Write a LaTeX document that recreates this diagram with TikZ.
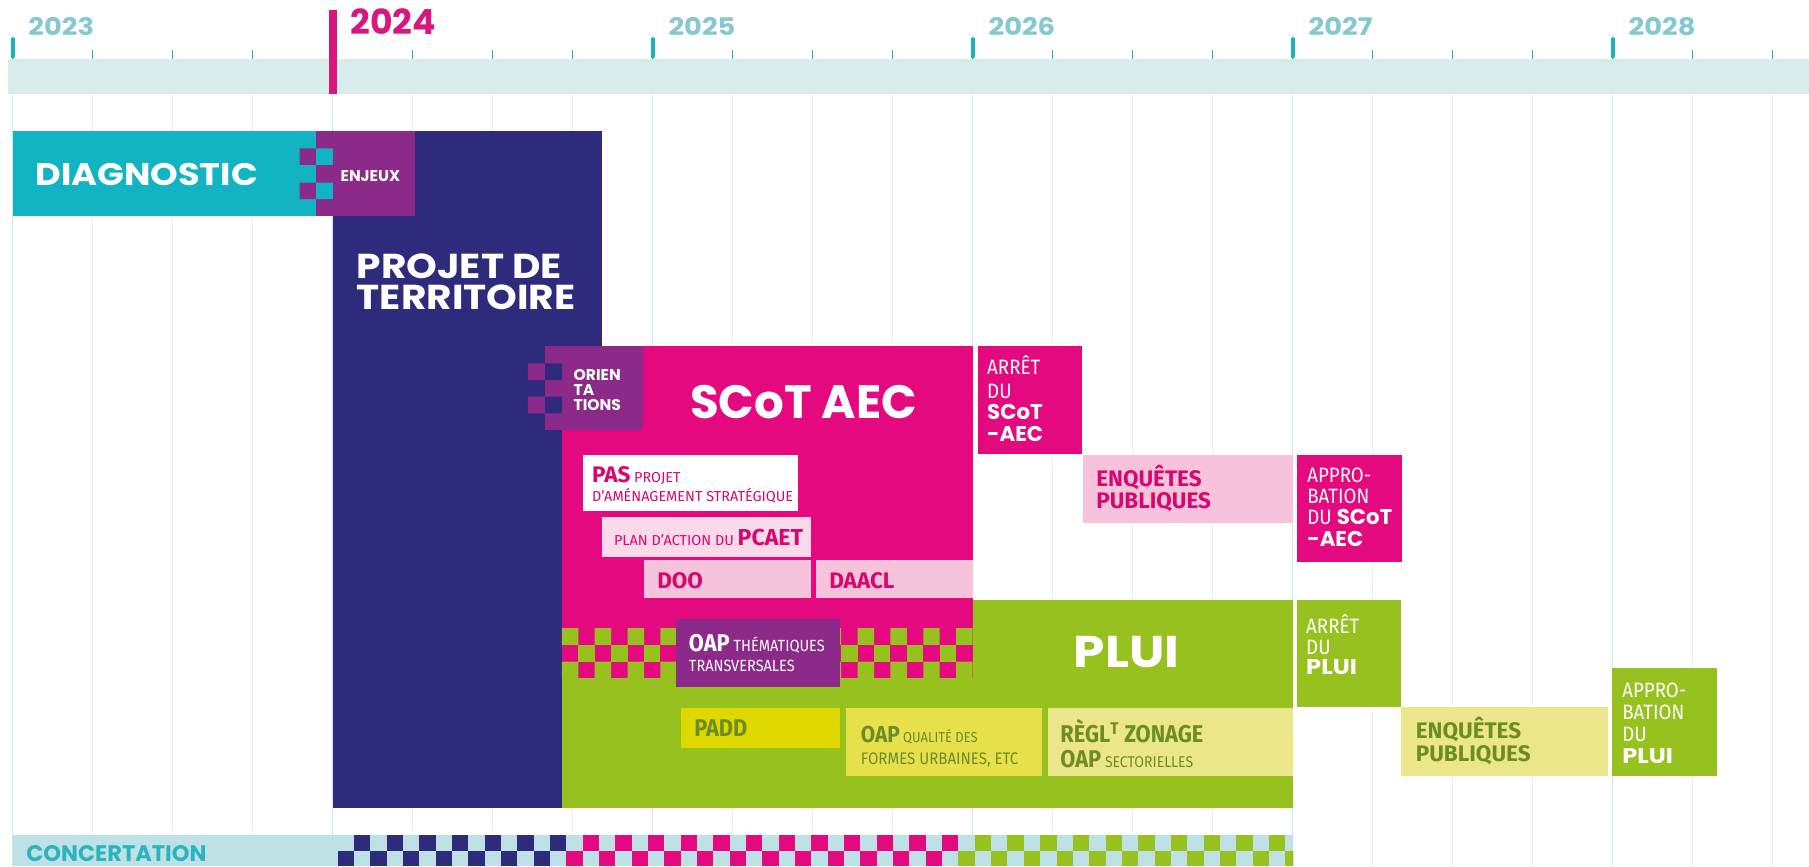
\documentclass[tikz,border=0pt]{standalone}
\usepackage{fontspec}
\setmainfont{Fira Sans}
\newfontfamily\dispfont{Poppins}
\newfontfamily\dispwide[FakeStretch=1.13]{Poppins}
\newfontfamily\condfont[FakeStretch=0.9]{Fira Sans}
\newcommand\dispword[2]{{\dispfont\bfseries\fontsize{#1}{#1}\selectfont #2}}
\newcommand\boldword[2]{{\bfseries\fontsize{#1}{#1}\selectfont #2}}
\definecolor{diagteal}{RGB}{18,180,195}
\definecolor{enjpurple}{RGB}{140,42,138}
\definecolor{projnavy}{RGB}{46,42,124}
\definecolor{scotmag}{RGB}{228,9,126}
\definecolor{scottxt}{RGB}{214,8,112}
\definecolor{pluigreen}{RGB}{150,193,31}
\definecolor{pinkmid}{RGB}{246,195,218}
\definecolor{pinklight}{RGB}{250,217,232}
\definecolor{yelpadd}{RGB}{222,216,0}
\definecolor{yeloap}{RGB}{230,224,75}
\definecolor{yelpale}{RGB}{236,230,139}
\definecolor{olivetxt}{RGB}{110,140,38}
\definecolor{bandgrey}{RGB}{217,236,236}
\definecolor{concband}{RGB}{190,225,229}
\definecolor{concteal}{RGB}{43,179,192}
\definecolor{tickteal}{RGB}{27,176,187}
\definecolor{yearteal}{RGB}{135,200,208}
\definecolor{yearmag}{RGB}{216,23,126}
\definecolor{gridq}{RGB}{232,243,245}
\definecolor{gridy}{RGB}{205,230,235}

\begin{document}
\begin{tikzpicture}[x=1pt,y=-1pt,
 lbl/.style={anchor=base west,inner sep=0pt},
 disp/.style={lbl,text=white,font=\dispfont\bfseries\fontsize{#1}{#1}\selectfont},
 dispw/.style={lbl,text=white,font=\dispwide\bfseries\fontsize{#1}{#1}\selectfont},
 cnd/.style={lbl,font=\condfont\fontsize{#1}{#1}\selectfont},
 cndb/.style={lbl,font=\condfont\bfseries\fontsize{#1}{#1}\selectfont},
 txt/.style={lbl,font=\fontsize{#1}{#1}\selectfont},
 txtb/.style={lbl,font=\bfseries\fontsize{#1}{#1}\selectfont},
 yearlbl/.style={lbl,text=yearteal,font=\dispwide\bfseries\fontsize{21}{21}\selectfont}]
\useasboundingbox (0,0) rectangle (1568,751);
\fill[white] (0,0) rectangle (1568,751);
% grid and timeline
\foreach \k in {0,...,22} {\draw[gridq,line width=1] ({11+69.35*\k},82) -- ({11+69.35*\k},751);}
\foreach \k in {0,4,...,20} {\draw[gridy,line width=1] ({11+69.35*\k},82) -- ({11+69.35*\k},751);}
\fill[bandgrey] (7,51.5) rectangle (1568,81.5);
\foreach \k in {0,...,22} {\draw[tickteal,line width=1] ({11+69.35*\k},43) -- ++(0,8.5);}
\foreach \k/\yr in {0/2023,2/2025,3/2026,4/2027,5/2028} {
  \draw[tickteal,line width=3.6,line cap=round] ({11+277.4*\k},34) -- ++(0,15);
  \node[yearlbl] (y\yr) at ({24.5+277.4*\k},31) {\yr};}
\fill[yearmag] (285,8.7) rectangle (292,81.5);
\node[lbl,text=yearmag,font=\dispfont\bfseries\fontsize{30}{30}\selectfont] (y2024) at (303.5,30.3) {2024};
% phases
\fill[projnavy] (288.6,113.5) rectangle (522,700);
\fill[pluigreen] (487,520) rectangle (1121,700);
\fill[scotmag] (487,300) rectangle (843,588);
\fill[diagteal] (11.5,113.5) rectangle (274,187.5);
\fill[enjpurple] (274,113.5) rectangle (359.7,187.5);
\fill[enjpurple] (259.6,128.6) rectangle (274,143) (259.6,158.4) rectangle (274,172.5);
\fill[diagteal] (274,128.6) rectangle (288.6,143) (274,158.4) rectangle (288.6,172.5);
\fill[enjpurple] (472.4,299.6) rectangle (557.6,372.7);
\fill[enjpurple] (457.6,315) rectangle (472.4,329.4) (457.6,343.8) rectangle (472.4,358.3);
\fill[projnavy] (472.4,315) rectangle (487,329.4) (472.4,343.8) rectangle (487,358.3);
\foreach \c in {0,2,...,24} {\fill[pluigreen] ({487+14.24*\c},544.5) rectangle ++(14.24,14.5) ({487+14.24*\c},573.5) rectangle ++(14.24,14.5);}
\foreach \c in {1,3,...,23} {\fill[pluigreen] ({487+14.24*\c},559) rectangle ++(14.24,14.5);}
\fill[enjpurple] (586,536.5) rectangle (728,595.5);
\fill[white] (505,394) rectangle (692,443);
\fill[pinklight] (522,448) rectangle (703,482.5);
\fill[pinkmid] (558,485.5) rectangle (703,518.5);
\fill[pinkmid] (707,485.5) rectangle (843,518.5);
\fill[scotmag] (848,300) rectangle (938,393.5);
\fill[pinkmid] (938.5,394) rectangle (1121,453);
\fill[scotmag] (1124,394) rectangle (1215,487);
\fill[pluigreen] (1124,520) rectangle (1214.5,613);
\fill[yelpale] (1214.5,613) rectangle (1394,673);
\fill[pluigreen] (1397.5,579) rectangle (1488,673);
\fill[yelpadd] (590,613.5) rectangle (728,648);
\fill[yeloap] (733,613.5) rectangle (903,673);
\fill[yelpale] (908,613.5) rectangle (1121,673);
% concertation
\fill[concband] (11,724) rectangle (1121,751);
\begin{scope}
\clip (0,700) rectangle (1121,751);
\foreach \c in {0,...,58} {
  \ifnum\c<14 \def\cc{projnavy}\else\ifnum\c<38 \def\cc{scotmag}\else\def\cc{pluigreen}\fi\fi
  \ifodd\c \fill[\cc] ({292.7+14.16*\c},724) rectangle ++(14.16,13.5);
  \else \fill[\cc] ({292.7+14.16*\c},737.5) rectangle ++(14.16,13.5);\fi}
\end{scope}
% labels
\node[dispw=27] (diag) at (30.5,160.5) {DIAGNOSTIC};
\node[disp=13.5] (enj) at (295,157) {ENJEUX};
\node[dispw=30] (proja) at (309,241) {PROJET DE};
\node[dispw=30] (projb) at (309,268.7) {TERRITOIRE};
\node[disp=13.5] (oriena) at (497,329.5) {ORIEN};
\node[disp=13.5] (orienb) at (497,342.5) {TA};
\node[disp=13.5] (orienc) at (497,356) {TIONS};
\node[disp=40.5] (scot) at (598,362.5) {SCoT AEC};
\node[dispw=38.5] (plui) at (930.5,579) {PLUI};
\node[disp=19.5,text=concteal] (conc) at (22.6,747) {CONCERTATION};
\node[txt=12.5,text=scottxt] (pasa) at (513,418.5) {\boldword{19.5}{PAS} PROJET};
\node[txt=12.5,text=scottxt] (pasb) at (513,434.5) {D'AMÉNAGEMENT STRATÉGIQUE};
\node[txt=12.5,text=scottxt] (plan) at (532,472.5) {PLAN D'ACTION DU \boldword{20}{PCAET}};
\node[txtb=19.5,text=scottxt] (doo) at (569.5,510.5) {DOO};
\node[txtb=19.5,text=scottxt] (daacl) at (718.6,510.5) {DAACL};
\node[cnd=18,text=white] (arrsa) at (855.5,325) {ARRÊT};
\node[cnd=18,text=white] (arrsb) at (855.5,345) {DU};
\node[disp=18.5] (arrsc) at (855.5,364) {SCoT};
\node[disp=18.5] (arrsd) at (855.5,383) {-AEC};
\node[txtb=19.5,text=scottxt] (enqsa) at (950,422) {ENQUÊTES};
\node[txtb=19.5,text=scottxt] (enqsb) at (950,441) {PUBLIQUES};
\node[cnd=18,text=white] (apsa) at (1133,418) {APPRO-};
\node[cnd=18,text=white] (apsb) at (1133,436) {BATION};
\node[cnd=18,text=white] (apsc) at (1133,455) {DU \dispword{18.5}{SCoT}};
\node[disp=18.5] (apsd) at (1133,474) {-AEC};
\node[cnd=14,text=white] (oapa) at (597,565) {\boldword{21}{OAP} THÉMATIQUES};
\node[cnd=14,text=white] (oapb) at (597,582) {TRANSVERSALES};
\node[cndb=21,text=olivetxt] (padd) at (601.6,638.6) {PADD};
\node[cnd=12.5,text=olivetxt] (oqa) at (746,644) {\boldword{20}{OAP} QUALITÉ DES};
\node[cnd=14.5,text=olivetxt] (oqb) at (746,663) {FORMES URBAINES, ETC};
\node[cndb=21,text=olivetxt] (rga) at (919,644) {RÈGL\textsuperscript{T} ZONAGE};
\node[cnd=13.5,text=olivetxt] (rgb) at (919,665) {\boldword{21}{OAP} SECTORIELLES};
\node[cnd=18,text=white] (arrpa) at (1132,549) {ARRÊT};
\node[cnd=18,text=white] (arrpb) at (1132,567) {DU};
\node[dispw=18.5] (arrpc) at (1132,585) {PLUI};
\node[txtb=19.5,text=olivetxt] (enqpa) at (1227,640) {ENQUÊTES};
\node[txtb=19.5,text=olivetxt] (enqpb) at (1227,660) {PUBLIQUES};
\node[cnd=18,text=white] (appa) at (1406,605) {APPRO-};
\node[cnd=18,text=white] (appb) at (1406,624) {BATION};
\node[cnd=18,text=white] (appc) at (1406,643) {DU};
\node[dispw=18.5] (appd) at (1406,662) {PLUI};
\end{tikzpicture}
\end{document}
